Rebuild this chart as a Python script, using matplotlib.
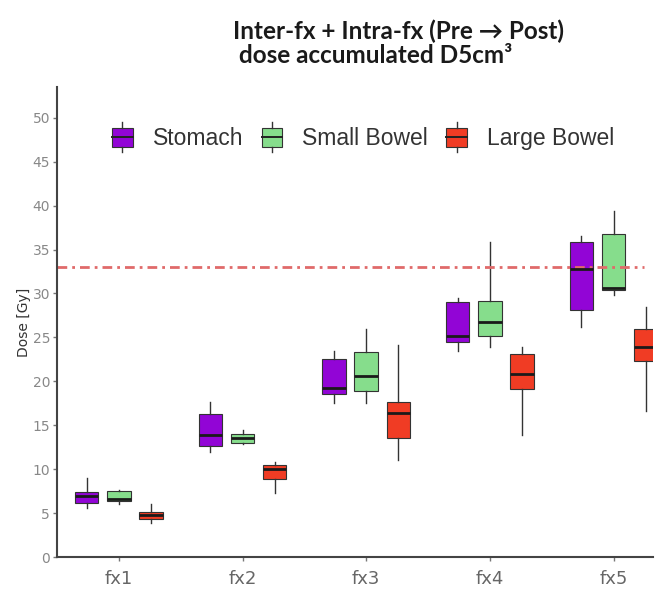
import matplotlib
matplotlib.use("Agg")
import matplotlib.pyplot as plt
from matplotlib.patches import Rectangle, Patch
from matplotlib.lines import Line2D
from matplotlib.legend_handler import HandlerBase

# five fractions, three organs; box stats read as whisker low, q1, median, q3, whisker high
fractions = ["fx1", "fx2", "fx3", "fx4", "fx5"]
organs = ["Stomach", "Small Bowel", "Large Bowel"]
organ_colors = ["#9205d6", "#86dd8c", "#f03c24"]

stomach_lo = [5.6, 12.0, 17.5, 23.5, 26.2]
stomach_q1 = [6.1, 12.6, 18.5, 24.5, 28.1]
stomach_med = [6.9, 13.9, 19.2, 25.1, 32.8]
stomach_q3 = [7.4, 16.3, 22.5, 29.0, 35.8]
stomach_hi = [9.0, 17.6, 23.5, 29.5, 36.5]

small_lo = [6.0, 12.9, 17.5, 23.9, 29.8]
small_q1 = [6.4, 13.0, 18.9, 25.1, 30.4]
small_med = [6.6, 13.5, 20.6, 26.7, 30.6]
small_q3 = [7.5, 14.0, 23.3, 29.1, 36.8]
small_hi = [7.6, 14.5, 26.0, 35.8, 39.4]

large_lo = [3.9, 7.3, 11.0, 13.9, 16.6]
large_q1 = [4.3, 8.9, 13.5, 19.1, 22.3]
large_med = [4.8, 10.0, 16.4, 20.8, 23.9]
large_q3 = [5.1, 10.5, 17.6, 23.1, 26.0]
large_hi = [6.0, 10.8, 24.1, 23.9, 28.4]

dose_limit = 33.0

organ_stats = [
    (stomach_lo, stomach_q1, stomach_med, stomach_q3, stomach_hi),
    (small_lo, small_q1, small_med, small_q3, small_hi),
    (large_lo, large_q1, large_med, large_q3, large_hi),
]


class BoxHandler(HandlerBase):
    # little boxplot glyph for the legend
    def create_artists(self, legend, orig_handle, xdescent, ydescent,
                       width, height, fontsize, trans):
        fc = orig_handle.get_facecolor()
        bw = width * 0.7
        x0 = xdescent + (width - bw) / 2
        bh = height * 1.2
        y0 = -ydescent + (height - bh) / 2
        box = Rectangle((x0, y0), bw, bh, facecolor=fc, edgecolor="#333333",
                        lw=0.8, transform=trans)
        xc = x0 + bw / 2
        top = Line2D([xc, xc], [y0 + bh, y0 + bh + height * 0.35],
                     color="#333333", lw=1, transform=trans)
        bot = Line2D([xc, xc], [y0, y0 - height * 0.35],
                     color="#333333", lw=1, transform=trans)
        med = Line2D([x0, x0 + bw], [y0 + bh / 2, y0 + bh / 2],
                     color="#222222", lw=1.4, transform=trans)
        return [box, top, bot, med]


fig = plt.figure(figsize=(6.66, 5.99), dpi=100)
ax = fig.add_axes([0.0856, 0.0701, 0.895, 0.7847])

offsets = [-0.26, 0.0, 0.26]
for k, (lo, q1, med, q3, hi) in enumerate(organ_stats):
    stats = []
    for i in range(len(fractions)):
        stats.append({"whislo": lo[i], "q1": q1[i], "med": med[i],
                      "q3": q3[i], "whishi": hi[i], "fliers": []})
    positions = [i + offsets[k] for i in range(len(fractions))]
    ax.bxp(stats, positions=positions, widths=0.19, patch_artist=True,
           showcaps=False, showfliers=False,
           boxprops=dict(facecolor=organ_colors[k], edgecolor="#333333", lw=0.8),
           whiskerprops=dict(color="#333333", lw=1),
           medianprops=dict(color="#1a1a1a", lw=2))

ax.axhline(dose_limit, xmin=0, xmax=0.985, color="#e06a6a", lw=2,
           linestyle=(0, (3.5, 1.8, 1, 1.8)))

ax.set_xlim(-0.5, 4.32)
ax.set_ylim(0, 53.5)
ax.set_yticks(range(0, 51, 5))
ax.set_xticks(range(len(fractions)))
ax.set_xticklabels(fractions, fontsize=13, color="#666666")
for lab in ax.get_yticklabels():
    lab.set_fontsize(10)
    lab.set_color("#888888")
ax.tick_params(axis="both", colors="#777777", length=3, width=1)
ax.tick_params(axis="x", labelcolor="#666666", pad=6)
ax.tick_params(axis="y", labelcolor="#888888", pad=2)
for side in ["top", "right"]:
    ax.spines[side].set_visible(False)
for side in ["left", "bottom"]:
    ax.spines[side].set_color("#444444")
    ax.spines[side].set_linewidth(1.5)

ax.set_ylabel("Dose [Gy]", fontsize=10, color="#333333", labelpad=1)

handles = [Patch(facecolor=c) for c in organ_colors]
ax.legend(handles, organs, handler_map={Patch: BoxHandler()}, ncol=3,
          loc="center left", bbox_to_anchor=(0.05, 0.89), frameon=False,
          prop={"family": "Liberation Sans", "size": 16.5}, labelcolor="#333333",
          handlelength=1.3, handletextpad=0.68, columnspacing=0.6)

fig.text(0.35, 0.947, "Inter-fx + Intra-fx (Pre \u2192 Post)", ha="left", va="center",
         fontsize=17.5, fontweight="bold", color="#1a1a1a", family=["Lato", "DejaVu Sans"])
fig.text(0.35, 0.908, " dose accumulated D5cm\u00b3", ha="left", va="center",
         fontsize=17.5, fontweight="bold", color="#1a1a1a", family=["Lato", "DejaVu Sans"])

fig.savefig("out.png", dpi=100)
